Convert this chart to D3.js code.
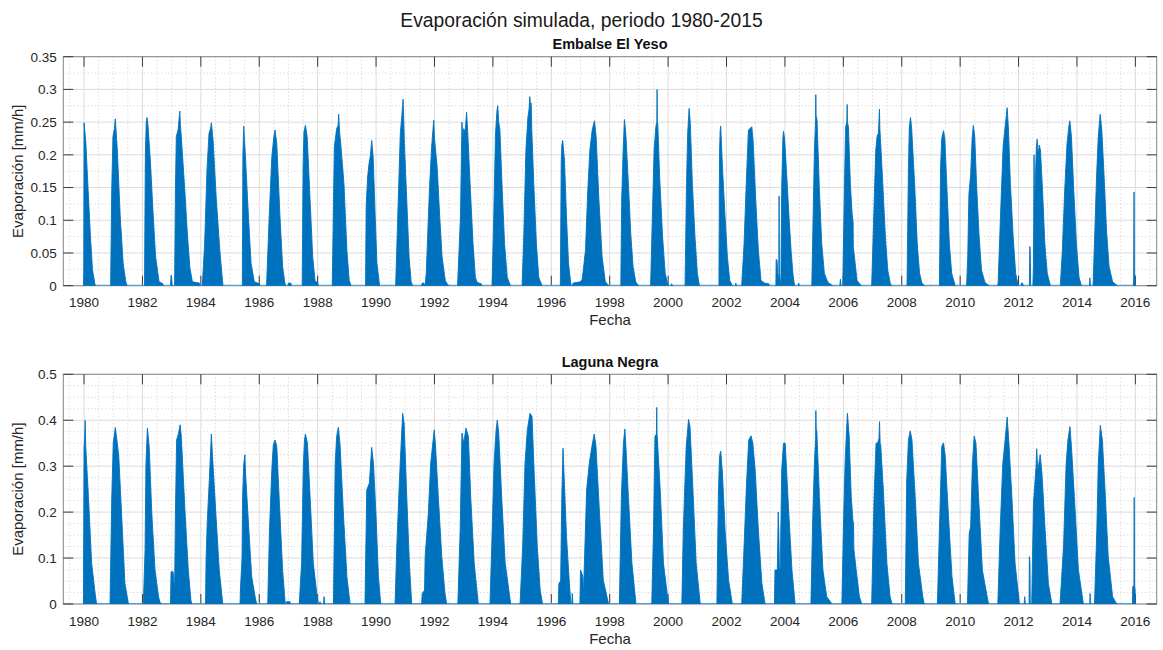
<!DOCTYPE html>
<html><head><meta charset="utf-8">
<script src="https://cdn.jsdelivr.net/npm/d3@7"></script>
<style>
body{margin:0;background:#fff}
text{font-family:"Liberation Sans",Arial,Helvetica,sans-serif}
</style>
</head><body>
<svg id="chart" width="1163" height="650"></svg>
<script>
// ---------------- DATA ----------------
const mainTitle = "Evaporación simulada, periodo 1980-2015";
const panelTitles = ["Embalse El Yeso", "Laguna Negra"];
const yLabel = "Evaporación [mm/h]";
const xLabel = "Fecha";

const xTickYears  = [1980,1982,1984,1986,1988,1990,1992,1994,1996,1998,2000,2002,2004,2006,2008,2010,2012,2014,2016];
const xTickLabels = ["1980","1982","1984","1986","1988","1990","1992","1994","1996","1998","2000","2002","2004","2006","2008","2010","2012","2014","2016"];
const xDomain = [1979.29, 2016.73];
const dataSpan = [1979.99, 2016.0];

const yTicksYeso  = [0,0.05,0.1,0.15,0.2,0.25,0.3,0.35];
const yTickLabelsYeso = ["0","0.05","0.1","0.15","0.2","0.25","0.3","0.35"];
const yTicksNegra = [0,0.1,0.2,0.3,0.4,0.5];
const yTickLabelsNegra = ["0","0.1","0.2","0.3","0.4","0.5"];

// Envelope of each seasonal pulse: [year, mm/h]
const yesoSeasons = [
 [[1979.99,0],[1980.0,0.249],[1980.03,0.235],[1980.06,0.22],[1980.14,0.146],[1980.22,0.075],[1980.29,0.024],[1980.37,0.003],[1980.39,0]],
 [[1980.91,0],[1980.95,0.15],[1980.99,0.228],[1981.04,0.24],[1981.07,0.255],[1981.1,0.235],[1981.14,0.207],[1981.24,0.105],[1981.34,0.034],[1981.43,0.006],[1981.47,0]],
 [[1982.07,0],[1982.1,0.2],[1982.13,0.25],[1982.16,0.257],[1982.19,0.245],[1982.27,0.192],[1982.36,0.115],[1982.45,0.044],[1982.57,0.006],[1982.70,0.003],[1982.71,0]],
 [[1982.96,0],[1982.98,0.016],[1983.0,0.012],[1983.02,0]],
 [[1983.10,0],[1983.13,0.15],[1983.16,0.228],[1983.22,0.238],[1983.28,0.267],[1983.3,0.245],[1983.33,0.228],[1983.45,0.146],[1983.53,0.085],[1983.62,0.029],[1983.71,0.006],[1983.95,0.004],[1983.98,0]],
 [[1984.05,0],[1984.13,0.064],[1984.21,0.177],[1984.28,0.233],[1984.33,0.24],[1984.36,0.249],[1984.42,0.222],[1984.53,0.131],[1984.65,0.054],[1984.74,0.008],[1984.76,0]],
 [[1985.42,0],[1985.44,0.2],[1985.47,0.244],[1985.49,0.225],[1985.51,0.212],[1985.63,0.105],[1985.72,0.034],[1985.83,0.006],[1986.0,0.003],[1986.03,0]],
 [[1986.25,0],[1986.34,0.105],[1986.43,0.197],[1986.5,0.228],[1986.54,0.238],[1986.6,0.217],[1986.71,0.105],[1986.8,0.029],[1986.88,0.003],[1986.91,0]],
 [[1986.98,0],[1987.0,0.004],[1987.08,0.004],[1987.1,0]],
 [[1987.47,0],[1987.5,0.18],[1987.53,0.235],[1987.58,0.245],[1987.64,0.228],[1987.74,0.131],[1987.83,0.044],[1987.91,0.008],[1988.0,0.004],[1988.02,0]],
 [[1988.5,0],[1988.57,0.212],[1988.65,0.24],[1988.7,0.245],[1988.72,0.262],[1988.75,0.235],[1988.79,0.217],[1988.9,0.156],[1989.0,0.054],[1989.08,0.008],[1989.14,0]],
 [[1989.64,0],[1989.66,0.12],[1989.71,0.166],[1989.76,0.187],[1989.81,0.2],[1989.85,0.222],[1989.9,0.197],[1989.97,0.105],[1990.03,0.034],[1990.1,0.008],[1990.12,0]],
 [[1990.67,0],[1990.76,0.131],[1990.83,0.233],[1990.88,0.258],[1990.925,0.285],[1990.95,0.25],[1990.97,0.217],[1991.05,0.131],[1991.13,0.044],[1991.2,0.006],[1991.25,0]],
 [[1991.56,0],[1991.58,0.004],[1991.64,0.004],[1991.66,0]],
 [[1991.68,0],[1991.72,0.02],[1991.77,0.08],[1991.83,0.15],[1991.9,0.21],[1991.95,0.24],[1991.975,0.253],[1992.0,0.225],[1992.09,0.182],[1992.18,0.105],[1992.26,0.044],[1992.37,0.008],[1992.45,0.002],[1992.49,0]],
 [[1992.79,0],[1992.89,0.105],[1992.94,0.25],[1992.97,0.225],[1993.0,0.24],[1993.05,0.235],[1993.09,0.259],[1993.1,0.265],[1993.14,0.233],[1993.23,0.146],[1993.32,0.064],[1993.4,0.013],[1993.46,0.005],[1993.6,0.003],[1993.63,0]],
 [[1993.97,0],[1994.03,0.105],[1994.09,0.233],[1994.14,0.268],[1994.167,0.275],[1994.2,0.25],[1994.24,0.238],[1994.32,0.146],[1994.4,0.064],[1994.49,0.013],[1994.6,0]],
 [[1995.0,0],[1995.06,0.08],[1995.13,0.207],[1995.2,0.258],[1995.24,0.27],[1995.263,0.289],[1995.29,0.275],[1995.31,0.279],[1995.33,0.24],[1995.4,0.156],[1995.49,0.064],[1995.57,0.013],[1995.68,0]],
 [[1996.31,0],[1996.34,0.19],[1996.36,0.215],[1996.39,0.222],[1996.45,0.192],[1996.52,0.105],[1996.59,0.034],[1996.66,0.006],[1996.68,0]],
 [[1996.72,0],[1996.75,0.004],[1997.0,0.006],[1997.06,0.01],[1997.17,0.054],[1997.25,0.146],[1997.32,0.207],[1997.4,0.238],[1997.478,0.252],[1997.535,0.228],[1997.63,0.131],[1997.74,0.044],[1997.85,0.006],[1997.97,0]],
 [[1998.38,0],[1998.41,0.131],[1998.46,0.207],[1998.504,0.254],[1998.55,0.233],[1998.64,0.156],[1998.72,0.08],[1998.8,0.029],[1998.89,0.006],[1998.98,0]],
 [[1999.4,0],[1999.46,0.105],[1999.52,0.207],[1999.58,0.243],[1999.615,0.25],[1999.623,0.3],[1999.63,0.25],[1999.646,0.248],[1999.71,0.166],[1999.81,0.075],[1999.9,0.019],[1999.98,0.003],[2000.01,0]],
 [[2000.1,0],[2000.12,0.003],[2000.15,0]],
 [[2000.58,0],[2000.63,0.156],[2000.67,0.233],[2000.719,0.271],[2000.76,0.248],[2000.83,0.156],[2000.92,0.075],[2001.0,0.019],[2001.06,0.003],[2001.08,0]],
 [[2001.74,0],[2001.76,0.2],[2001.78,0.235],[2001.8,0.244],[2001.86,0.182],[2001.95,0.105],[2002.03,0.044],[2002.11,0.008],[2002.2,0]],
 [[2002.3,0],[2002.32,0.004],[2002.34,0]],
 [[2002.52,0],[2002.6,0.064],[2002.68,0.161],[2002.75,0.238],[2002.8,0.24],[2002.865,0.243],[2002.91,0.222],[2003.0,0.131],[2003.09,0.054],[2003.18,0.008],[2003.3,0.004],[2003.45,0.003],[2003.46,0]],
 [[2003.69,0],[2003.7,0.04],[2003.73,0.039],[2003.75,0.02],[2003.79,0.01],[2003.8,0.137],[2003.81,0.02],[2003.85,0]],
 [[2003.86,0],[2003.89,0.15],[2003.93,0.225],[2003.95,0.236],[2003.99,0.225],[2004.06,0.17],[2004.14,0.105],[2004.21,0.054],[2004.28,0.015],[2004.33,0]],
 [[2004.45,0],[2004.47,0.004],[2004.5,0]],
 [[2004.92,0],[2004.965,0.105],[2005.01,0.207],[2005.05,0.253],[2005.057,0.292],[2005.065,0.26],[2005.1,0.253],[2005.18,0.146],[2005.26,0.064],[2005.35,0.019],[2005.47,0.005],[2005.64,0]],
 [[2005.88,0],[2005.9,0.01],[2005.92,0]],
 [[2005.98,0],[2006.04,0.156],[2006.08,0.243],[2006.12,0.25],[2006.13,0.277],[2006.14,0.25],[2006.175,0.243],[2006.24,0.156],[2006.3,0.11],[2006.335,0.097],[2006.34,0.06],[2006.38,0.044],[2006.47,0.008],[2006.61,0]],
 [[2006.97,0],[2007.04,0.105],[2007.11,0.207],[2007.16,0.229],[2007.2,0.233],[2007.237,0.27],[2007.25,0.24],[2007.27,0.225],[2007.35,0.156],[2007.44,0.075],[2007.52,0.024],[2007.61,0.003],[2007.66,0]],
 [[2008.18,0],[2008.23,0.182],[2008.26,0.243],[2008.3,0.257],[2008.34,0.24],[2008.44,0.156],[2008.53,0.064],[2008.61,0.019],[2008.69,0.004],[2008.78,0]],
 [[2009.29,0],[2009.33,0.182],[2009.37,0.225],[2009.43,0.237],[2009.475,0.225],[2009.55,0.146],[2009.63,0.064],[2009.71,0.019],[2009.83,0]],
 [[2010.22,0],[2010.26,0.045],[2010.3,0.14],[2010.36,0.17],[2010.41,0.225],[2010.45,0.245],[2010.5,0.228],[2010.56,0.156],[2010.65,0.075],[2010.73,0.024],[2010.85,0.005],[2010.99,0]],
 [[2011.28,0],[2011.3,0.004],[2011.38,0.105],[2011.47,0.212],[2011.54,0.243],[2011.61,0.272],[2011.655,0.238],[2011.72,0.156],[2011.815,0.075],[2011.9,0.019],[2011.99,0]],
 [[2012.08,0],[2012.1,0.004],[2012.14,0.004],[2012.16,0]],
 [[2012.37,0],[2012.385,0.06],[2012.4,0.05],[2012.415,0]],
 [[2012.49,0],[2012.51,0.03],[2012.53,0.2],[2012.55,0.12],[2012.58,0.17],[2012.61,0.212],[2012.637,0.224],[2012.67,0.2],[2012.71,0.215],[2012.75,0.207],[2012.82,0.146],[2012.9,0.064],[2012.98,0.019],[2013.09,0]],
 [[2013.43,0],[2013.5,0.054],[2013.58,0.146],[2013.66,0.217],[2013.72,0.243],[2013.756,0.252],[2013.81,0.228],[2013.89,0.146],[2013.98,0.064],[2014.07,0.013],[2014.15,0]],
 [[2014.43,0],[2014.44,0.012],[2014.46,0]],
 [[2014.55,0],[2014.61,0.08],[2014.67,0.166],[2014.73,0.228],[2014.794,0.262],[2014.85,0.238],[2014.93,0.166],[2015.01,0.085],[2015.1,0.029],[2015.22,0.006],[2015.38,0]],
 [[2015.93,0],[2015.94,0.01],[2015.955,0.143],[2015.965,0.02],[2015.99,0.01],[2016.0,0]]
];

const negraSeasons = [
 [[1979.98,0],[1980.0,0.34],[1980.02,0.36],[1980.04,0.40],[1980.06,0.34],[1980.15,0.234],[1980.26,0.089],[1980.38,0.023],[1980.43,0]],
 [[1980.89,0],[1980.95,0.234],[1981.0,0.35],[1981.07,0.384],[1981.14,0.35],[1981.19,0.321],[1981.29,0.19],[1981.4,0.045],[1981.52,0]],
 [[1982.03,0],[1982.09,0.118],[1982.12,0.306],[1982.17,0.383],[1982.23,0.343],[1982.32,0.198],[1982.43,0.074],[1982.55,0.016],[1982.6,0.004],[1982.65,0]],
 [[1982.96,0],[1982.98,0.07],[1983.05,0.07],[1983.1,0.03],[1983.13,0.2],[1983.17,0.357],[1983.23,0.37],[1983.29,0.39],[1983.33,0.365],[1983.46,0.198],[1983.57,0.074],[1983.66,0.008],[1983.69,0]],
 [[1984.16,0],[1984.18,0.1],[1984.22,0.179],[1984.29,0.27],[1984.36,0.37],[1984.4,0.321],[1984.52,0.19],[1984.63,0.074],[1984.75,0]],
 [[1985.34,0],[1985.36,0.038],[1985.41,0.1],[1985.43,0.234],[1985.47,0.306],[1985.51,0.325],[1985.53,0.285],[1985.63,0.176],[1985.74,0.06],[1985.86,0.015],[1985.91,0]],
 [[1986.29,0],[1986.35,0.161],[1986.43,0.292],[1986.48,0.346],[1986.54,0.357],[1986.6,0.343],[1986.69,0.219],[1986.8,0.074],[1986.89,0]],
 [[1986.92,0],[1986.94,0.005],[1987.05,0.005],[1987.07,0]],
 [[1987.37,0],[1987.39,0.023],[1987.45,0.089],[1987.51,0.306],[1987.55,0.357],[1987.58,0.37],[1987.65,0.35],[1987.74,0.234],[1987.85,0.089],[1987.97,0.023],[1988.02,0]],
 [[1988.06,0],[1988.08,0.005],[1988.1,0]],
 [[1988.2,0],[1988.22,0.016],[1988.24,0]],
 [[1988.54,0],[1988.6,0.306],[1988.65,0.365],[1988.71,0.385],[1988.77,0.343],[1988.88,0.198],[1989.0,0.06],[1989.11,0]],
 [[1989.62,0],[1989.68,0.248],[1989.77,0.263],[1989.85,0.341],[1989.91,0.306],[1990.0,0.19],[1990.08,0.06],[1990.16,0]],
 [[1990.65,0],[1990.71,0.125],[1990.8,0.27],[1990.86,0.35],[1990.91,0.415],[1990.96,0.394],[1991.05,0.234],[1991.14,0.089],[1991.22,0]],
 [[1991.56,0],[1991.58,0.023],[1991.66,0.03],[1991.68,0.103],[1991.79,0.198],[1991.87,0.306],[1991.99,0.379],[1992.03,0.35],[1992.13,0.234],[1992.25,0.103],[1992.36,0.023],[1992.42,0]],
 [[1992.8,0],[1992.88,0.161],[1992.94,0.372],[1993.0,0.35],[1993.08,0.383],[1993.16,0.365],[1993.24,0.234],[1993.36,0.089],[1993.5,0]],
 [[1993.9,0],[1993.96,0.125],[1994.04,0.306],[1994.11,0.379],[1994.15,0.4],[1994.2,0.372],[1994.3,0.234],[1994.42,0.089],[1994.61,0]],
 [[1994.93,0],[1995.02,0.125],[1995.1,0.306],[1995.18,0.379],[1995.27,0.415],[1995.34,0.408],[1995.41,0.292],[1995.52,0.125],[1995.62,0.03],[1995.7,0]],
 [[1996.24,0],[1996.26,0.045],[1996.32,0.05],[1996.36,0.234],[1996.4,0.339],[1996.43,0.292],[1996.52,0.147],[1996.62,0.045],[1996.67,0]],
 [[1996.7,0],[1996.72,0.023],[1996.74,0]],
 [[1996.98,0],[1997.0,0.074],[1997.08,0.06],[1997.1,0.02],[1997.21,0.248],[1997.3,0.306],[1997.39,0.343],[1997.47,0.37],[1997.53,0.343],[1997.65,0.198],[1997.78,0.052],[1997.96,0]],
 [[1998.33,0],[1998.4,0.234],[1998.47,0.35],[1998.52,0.381],[1998.56,0.336],[1998.64,0.234],[1998.76,0.089],[1998.9,0]],
 [[1999.44,0],[1999.5,0.161],[1999.55,0.365],[1999.6,0.37],[1999.61,0.428],[1999.62,0.372],[1999.73,0.248],[1999.84,0.089],[2000.01,0]],
 [[2000.47,0],[2000.52,0.161],[2000.62,0.343],[2000.7,0.402],[2000.75,0.386],[2000.85,0.248],[2000.96,0.089],[2001.1,0]],
 [[2001.67,0],[2001.72,0.234],[2001.76,0.321],[2001.8,0.333],[2001.86,0.285],[2001.95,0.161],[2002.07,0.052],[2002.2,0]],
 [[2002.52,0],[2002.6,0.125],[2002.69,0.27],[2002.76,0.357],[2002.84,0.366],[2002.9,0.35],[2002.98,0.292],[2003.09,0.161],[2003.21,0.045],[2003.32,0]],
 [[2003.64,0],[2003.66,0.074],[2003.74,0.074],[2003.77,0.2],[2003.79,0.16],[2003.81,0.074],[2003.84,0.08],[2003.89,0.292],[2003.95,0.35],[2004.01,0.35],[2004.12,0.212],[2004.24,0.074],[2004.35,0]],
 [[2004.89,0],[2004.95,0.183],[2005.01,0.306],[2005.05,0.36],[2005.06,0.421],[2005.07,0.38],[2005.09,0.379],[2005.18,0.234],[2005.3,0.074],[2005.43,0.016],[2005.61,0]],
 [[2005.95,0],[2006.0,0.161],[2006.06,0.306],[2006.1,0.365],[2006.14,0.415],[2006.2,0.365],[2006.27,0.234],[2006.33,0.18],[2006.35,0.177],[2006.36,0.12],[2006.44,0.074],[2006.55,0.016],[2006.63,0]],
 [[2006.97,0],[2007.05,0.227],[2007.12,0.35],[2007.17,0.35],[2007.22,0.36],[2007.24,0.397],[2007.26,0.35],[2007.28,0.346],[2007.37,0.248],[2007.49,0.089],[2007.6,0.016],[2007.67,0]],
 [[2008.12,0],[2008.17,0.27],[2008.23,0.357],[2008.29,0.377],[2008.35,0.357],[2008.46,0.234],[2008.57,0.089],[2008.72,0.016],[2008.77,0]],
 [[2009.22,0],[2009.29,0.161],[2009.37,0.343],[2009.43,0.351],[2009.49,0.321],[2009.6,0.19],[2009.72,0.06],[2009.83,0]],
 [[2010.25,0],[2010.31,0.154],[2010.36,0.168],[2010.42,0.306],[2010.48,0.366],[2010.54,0.35],[2010.63,0.234],[2010.76,0.074],[2010.97,0]],
 [[2011.29,0],[2011.37,0.161],[2011.46,0.306],[2011.54,0.357],[2011.61,0.407],[2011.67,0.35],[2011.77,0.234],[2011.88,0.089],[2012.03,0]],
 [[2012.19,0],[2012.21,0.016],[2012.23,0]],
 [[2012.36,0],[2012.37,0.103],[2012.39,0.09],[2012.4,0]],
 [[2012.45,0],[2012.51,0.219],[2012.6,0.3],[2012.62,0.338],[2012.66,0.29],[2012.74,0.325],[2012.8,0.285],[2012.91,0.161],[2013.02,0.045],[2013.14,0]],
 [[2013.42,0],[2013.54,0.125],[2013.63,0.306],[2013.69,0.357],[2013.76,0.386],[2013.81,0.343],[2013.91,0.234],[2014.05,0.074],[2014.22,0]],
 [[2014.44,0],[2014.45,0.023],[2014.46,0]],
 [[2014.6,0],[2014.68,0.161],[2014.73,0.306],[2014.8,0.389],[2014.87,0.357],[2014.96,0.248],[2015.07,0.103],[2015.22,0.016],[2015.36,0]],
 [[2015.9,0],[2015.91,0.038],[2015.95,0.04],[2015.96,0.232],[2015.97,0.04],[2015.99,0.03],[2016.0,0]]
];

// ---------------- DRAWING ----------------
const svg = d3.select("#chart");
const W = 1163;
const plotLeft = 63.3, plotRight = 1156.7;
const x = d3.scaleLinear().domain(xDomain).range([plotLeft, plotRight]);

svg.append("text").attr("x", W/2).attr("y", 27).attr("text-anchor","middle")
   .attr("font-size", 19.3).attr("fill","#1a1a1a").text(mainTitle);

const panels = [
  {title: panelTitles[0], top: 56.7, bottom: 285.7, yMax: 0.35, ticks: yTicksYeso, labels: yTickLabelsYeso, minor: 0.025, data: yesoSeasons},
  {title: panelTitles[1], top: 374.3, bottom: 604.0, yMax: 0.5, ticks: yTicksNegra, labels: yTickLabelsNegra, minor: 0.025, data: negraSeasons}
];

panels.forEach((p, i) => {
  const y = d3.scaleLinear().domain([0, p.yMax]).range([p.bottom, p.top]);
  const g = svg.append("g");
  const clipId = "clip" + i;
  svg.append("clipPath").attr("id", clipId).append("rect")
     .attr("x", plotLeft).attr("y", p.top).attr("width", plotRight-plotLeft).attr("height", p.bottom-p.top);

  // minor grid
  const xMinor = d3.range(1979.5, xDomain[1], 0.5).filter(v => v > xDomain[0] && Math.abs(v - Math.round(v/2)*2) > 1e-6);
  g.append("g").selectAll("line").data(xMinor).join("line")
   .attr("x1", d=>x(d)).attr("x2", d=>x(d)).attr("y1", p.top).attr("y2", p.bottom)
   .attr("stroke","#c4c4c4").attr("stroke-width",0.8).attr("stroke-dasharray","1,2.5");
  const yMinor = d3.range(0, p.yMax + 1e-9, p.minor).filter(v => !p.ticks.some(t => Math.abs(t - v) < 1e-9));
  g.append("g").selectAll("line").data(yMinor).join("line")
   .attr("x1", plotLeft).attr("x2", plotRight).attr("y1", d=>y(d)).attr("y2", d=>y(d))
   .attr("stroke","#c4c4c4").attr("stroke-width",0.8).attr("stroke-dasharray","1,2.5");
  // major grid
  g.append("g").selectAll("line").data(xTickYears).join("line")
   .attr("x1", d=>x(d)).attr("x2", d=>x(d)).attr("y1", p.top).attr("y2", p.bottom)
   .attr("stroke","#dcdcdc").attr("stroke-width",1);
  g.append("g").selectAll("line").data(p.ticks).join("line")
   .attr("x1", plotLeft).attr("x2", plotRight).attr("y1", d=>y(d)).attr("y2", d=>y(d))
   .attr("stroke","#dcdcdc").attr("stroke-width",1);

  // axes box + ticks (below data, MATLAB layer 'bottom')
  g.append("rect").attr("x", plotLeft).attr("y", p.top).attr("width", plotRight-plotLeft).attr("height", p.bottom-p.top)
   .attr("fill","none").attr("stroke","#858585").attr("stroke-width",1);
  const tl = 10;
  g.append("g").selectAll("line").data(xTickYears).join("line")
   .attr("x1", d=>x(d)).attr("x2", d=>x(d)).attr("y1", p.bottom).attr("y2", p.bottom - tl)
   .attr("stroke","#3a3a3a").attr("stroke-width",1);
  g.append("g").selectAll("line").data(xTickYears).join("line")
   .attr("x1", d=>x(d)).attr("x2", d=>x(d)).attr("y1", p.top).attr("y2", p.top + tl)
   .attr("stroke","#3a3a3a").attr("stroke-width",1);
  g.append("g").selectAll("line").data(p.ticks).join("line")
   .attr("x1", plotLeft).attr("x2", plotLeft + tl).attr("y1", d=>y(d)).attr("y2", d=>y(d))
   .attr("stroke","#3a3a3a").attr("stroke-width",1);
  g.append("g").selectAll("line").data(p.ticks).join("line")
   .attr("x1", plotRight).attr("x2", plotRight - tl).attr("y1", d=>y(d)).attr("y2", d=>y(d))
   .attr("stroke","#3a3a3a").attr("stroke-width",1);

  // data
  const dg = g.append("g").attr("clip-path", `url(#${clipId})`);
  dg.append("line").attr("x1", x(dataSpan[0])).attr("x2", x(dataSpan[1]))
    .attr("y1", y(0)).attr("y2", y(0)).attr("stroke","#4d9fdc").attr("stroke-width",2);
  const area = d3.area().x(d=>x(d[0])).y0(y(0)).y1(d=>y(d[1]));
  dg.selectAll("path.s").data(p.data).join("path").attr("class","s")
    .attr("d", area).attr("fill","#0072BD").attr("stroke","#0072BD").attr("stroke-width",0.9)
    .attr("stroke-linejoin","round");

  // tick labels
  g.append("g").selectAll("text").data(xTickYears).join("text")
   .attr("x", d=>x(d)).attr("y", p.bottom + 21.5).attr("text-anchor","middle")
   .attr("font-size", 13.5).attr("fill","#262626").text((d,j)=>xTickLabels[j]);
  g.append("g").selectAll("text").data(p.ticks).join("text")
   .attr("x", plotLeft - 6.5).attr("y", d=>y(d)).attr("dy","0.36em").attr("text-anchor","end")
   .attr("font-size", 13.5).attr("fill","#262626").text((d,j)=>p.labels[j]);

  // labels
  const cx = (plotLeft + plotRight)/2, cy = (p.top + p.bottom)/2;
  g.append("text").attr("transform", `translate(23,${cy}) rotate(-90)`).attr("text-anchor","middle")
   .attr("font-size", 15).attr("fill","#262626").text(yLabel);
  g.append("text").attr("x", cx).attr("y", p.bottom + 39.5).attr("text-anchor","middle")
   .attr("font-size", 15).attr("fill","#262626").text(xLabel);
  g.append("text").attr("x", cx).attr("y", p.top - 7.3).attr("text-anchor","middle")
   .attr("font-size", 14.5).attr("font-weight","bold").attr("fill","#111").text(p.title);
});
</script>
</body></html>
